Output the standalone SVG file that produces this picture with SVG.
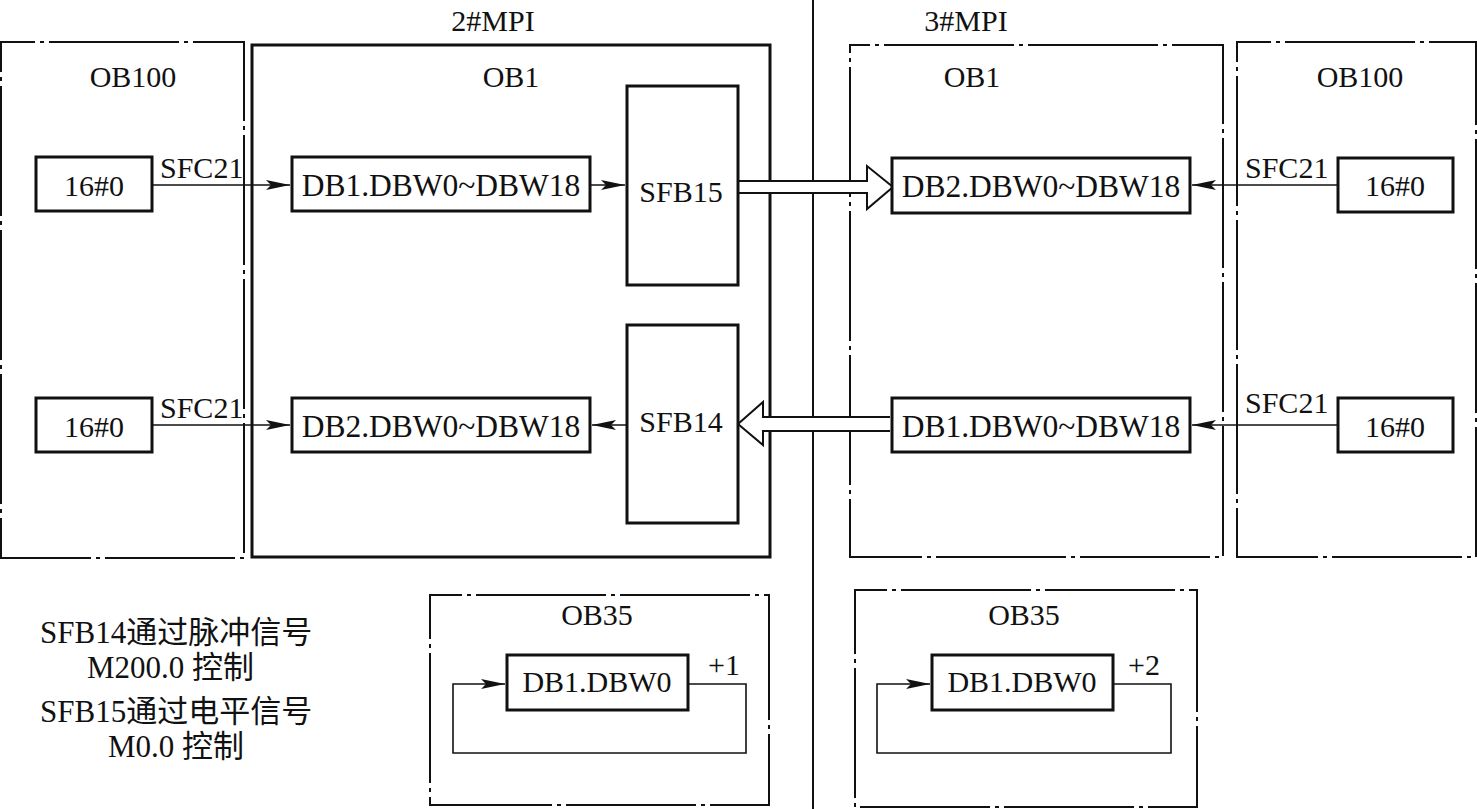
<svg xmlns="http://www.w3.org/2000/svg" width="1477" height="809" viewBox="0 0 1477 809">
<defs>
<style>
text{font-family:'Liberation Serif','Times New Roman','Noto Sans CJK SC','Noto Sans CJK JP',serif;font-size:30px;fill:#111;}
.note{font-size:31px;}
.db{font-size:31.5px;}
.c{text-anchor:middle;}
.dd{fill:none;stroke:#111;stroke-width:2;stroke-dasharray:130 5 4 5;}
.box{fill:#fff;stroke:#111;stroke-width:3;}
.ln{fill:none;stroke:#111;stroke-width:1.6;}
.hl{fill:#fff;stroke:#111;stroke-width:2;}
</style>
<marker id="ah" markerUnits="userSpaceOnUse" markerWidth="24" markerHeight="12" viewBox="0 0 24 12" refX="24" refY="6" orient="auto">
<path d="M0,1 L24,6 L0,11 L5,6 Z" fill="#111"/>
</marker>
</defs>
<rect width="1477" height="809" fill="#fff"/>
<g id="divider"><line x1="813" y1="0" x2="813" y2="809" stroke="#111" stroke-width="2"/></g>
<g id="mpi-labels"><text class="c" x="493" y="31">2#MPI</text><text class="c" x="966" y="31">3#MPI</text></g>
<g id="ob100-left"><rect class="dd" x="1" y="42" width="243" height="516" stroke-dashoffset="96"/><text class="c" x="133" y="87">OB100</text></g>
<g id="ob1-left"><rect x="252" y="45" width="518" height="512" fill="none" stroke="#111" stroke-width="3"/><text class="c" x="511" y="87">OB1</text></g>
<g id="ob1-right"><rect class="dd" x="850" y="45" width="373" height="512" stroke-dashoffset="110"/><text class="c" x="972" y="87">OB1</text></g>
<g id="ob100-right"><rect class="dd" x="1237" y="42" width="239" height="515" stroke-dashoffset="96"/><text class="c" x="1360" y="87">OB100</text></g>
<g id="ob35-left"><rect class="dd" x="430" y="595" width="339" height="210" stroke-dashoffset="98"/><text class="c" x="597" y="625">OB35</text></g>
<g id="ob35-right"><rect class="dd" x="855" y="590" width="342" height="217" stroke-dashoffset="98"/><text class="c" x="1024" y="625">OB35</text></g>
<g id="connectors">
<line class="ln" x1="152" y1="185" x2="290" y2="185" marker-end="url(#ah)"/>
<line class="ln" x1="590" y1="185" x2="625" y2="185" marker-end="url(#ah)"/>
<line class="ln" x1="152" y1="425" x2="290" y2="425" marker-end="url(#ah)"/>
<line class="ln" x1="627" y1="425" x2="592" y2="425" marker-end="url(#ah)"/>
<line class="ln" x1="1338" y1="185" x2="1192" y2="185" marker-end="url(#ah)"/>
<line class="ln" x1="1338" y1="425" x2="1192" y2="425" marker-end="url(#ah)"/>
<path class="hl" d="M738,181 L867,181 L867,166 L893,187 L867,209 L867,193 L738,193"/>
<path class="hl" d="M890,417 L763,417 L763,402 L738,424 L763,445 L763,431 L890,431"/>
<path class="ln" d="M688,684 L746,684 L746,753 L453,753 L453,684 L505,684" marker-end="url(#ah)"/>
<path class="ln" d="M1113,684 L1171,684 L1171,753 L877,753 L877,684 L930,684" marker-end="url(#ah)"/>
</g>
<g id="labels-sfc">
<text x="160" y="178">SFC21</text>
<text x="160" y="418">SFC21</text>
<text x="1245" y="178">SFC21</text>
<text x="1245" y="413">SFC21</text>
<text x="708" y="675">+1</text>
<text x="1128" y="675">+2</text>
</g>
<g id="n-16-0-a"><rect class="box" x="36" y="157" width="116" height="54"/><text class="c" x="94" y="196">16#0</text></g>
<g id="n-16-0-b"><rect class="box" x="36" y="398" width="116" height="54"/><text class="c" x="94" y="437">16#0</text></g>
<g id="n-db1-left"><rect class="box" x="292" y="157" width="298" height="54"/><text class="c db" x="441" y="196">DB1.DBW0~DBW18</text></g>
<g id="n-db2-left"><rect class="box" x="292" y="398" width="298" height="54"/><text class="c db" x="441" y="437">DB2.DBW0~DBW18</text></g>
<g id="n-sfb15"><rect class="box" x="627" y="86" width="111" height="199"/><text class="c" x="681" y="202">SFB15</text></g>
<g id="n-sfb14"><rect class="box" x="627" y="325" width="111" height="198"/><text class="c" x="681" y="432">SFB14</text></g>
<g id="n-db2-right"><rect class="box" x="892" y="158" width="298" height="55"/><text class="c db" x="1041" y="197">DB2.DBW0~DBW18</text></g>
<g id="n-db1-right"><rect class="box" x="892" y="398" width="298" height="54"/><text class="c db" x="1041" y="437">DB1.DBW0~DBW18</text></g>
<g id="n-16-0-c"><rect class="box" x="1338" y="158" width="115" height="54"/><text class="c" x="1395" y="196">16#0</text></g>
<g id="n-16-0-d"><rect class="box" x="1338" y="398" width="115" height="54"/><text class="c" x="1395" y="437">16#0</text></g>
<g id="n-ob35-db-left"><rect class="box" x="507" y="655" width="181" height="55"/><text class="c" x="597" y="692">DB1.DBW0</text></g>
<g id="n-ob35-db-right"><rect class="box" x="932" y="655" width="181" height="55"/><text class="c" x="1022" y="692">DB1.DBW0</text></g>
<g id="notes">
<text class="note" x="40" y="643">SFB14通过脉冲信号</text>
<text class="note" x="87" y="678">M200.0 控制</text>
<text class="note" x="40" y="722">SFB15通过电平信号</text>
<text class="note" x="108" y="757">M0.0 控制</text>
</g>
</svg>
